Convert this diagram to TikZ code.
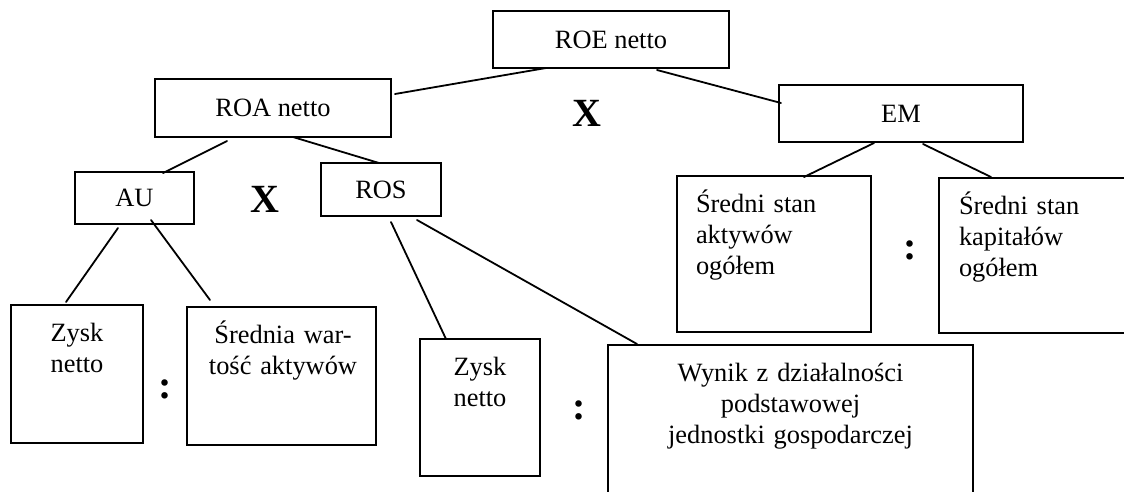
\documentclass[tikz,border=0pt]{standalone}
\usepackage{fontspec}
\setmainfont{Liberation Serif}
\begin{document}
\begin{tikzpicture}[x=1pt,y=-1pt,
  boxst/.style={draw=black, line width=1.8pt, inner sep=0pt, outer sep=0pt, anchor=north west, font=\fontsize{26.4}{31}\selectfont},
  txt/.style={inner sep=0pt, outer sep=0pt, font=\fontsize{26.4}{31}\selectfont},
  conn/.style={line width=1.8pt, line cap=round},
  bigsign/.style={inner sep=0pt, outer sep=0pt, font=\fontsize{40}{48}\selectfont\bfseries}]
\useasboundingbox (0,0) rectangle (1124,491);
\clip (0,0) rectangle (1124,491);
\fill[white] (0,0) rectangle (1124,491);

% boxes
\node[boxst, minimum width=236pt, minimum height=57pt] (roe) at (493,11) {ROE netto};
\node[boxst, minimum width=236pt, minimum height=58pt] (roa) at (155,79) {ROA netto};
\node[boxst, minimum width=244pt, minimum height=57pt] (em) at (779,85) {EM};
\node[boxst, minimum width=119pt, minimum height=52pt] (au) at (75,172) {AU};
\node[boxst, minimum width=120pt, minimum height=53pt] (ros) at (321,163) {ROS};
\node[boxst, minimum width=194pt, minimum height=156pt] (sak) at (677,176) {};
\node[boxst, minimum width=220pt, minimum height=155pt] (skap) at (939,178) {};
\node[boxst, minimum width=132pt, minimum height=138pt] (zn1) at (11,305) {};
\node[boxst, minimum width=189pt, minimum height=138pt] (sw) at (187,307) {};
\node[boxst, minimum width=120pt, minimum height=137pt] (zn2) at (420,339) {};
\node[boxst, minimum width=365pt, minimum height=180pt] (wyn) at (608,345) {};

% box texts
\node[txt, anchor=north west, text width=170pt, align=left] (sakt) at ([xshift=19pt,yshift=-14.3pt]sak.north west) {\strut Średni stan\\aktywów\\ogółem};
\node[txt, anchor=north west, text width=170pt, align=left] (skapt) at ([xshift=20pt,yshift=-14.3pt]skap.north west) {\strut Średni stan\\kapitałów\\ogółem};
\node[txt, anchor=north, text width=132pt, align=center] (zn1t) at ([yshift=-14.3pt]zn1.north) {\strut Zysk\\netto};
\node[txt, anchor=north, text width=189pt, align=center] (swt) at ([xshift=1.5pt,yshift=-14.3pt]sw.north) {\strut Średnia war-\\tość aktywów};
\node[txt, anchor=north, text width=120pt, align=center] (zn2t) at ([yshift=-14.3pt]zn2.north) {\strut Zysk\\netto};
\node[txt, anchor=north, text width=365pt, align=center] (wynt) at ([yshift=-14.3pt]wyn.north) {\strut Wynik z działalności\\podstawowej\hspace*{6.6pt}\\jednostki gospodarczej};

% connectors
\draw[conn] ([xshift=4pt,yshift=-15pt]roa.north east) -- ([xshift=53pt]roe.south west);
\draw[conn] ([xshift=164pt,yshift=-2pt]roe.south west) -- ([xshift=2pt,yshift=-18pt]em.north west);
\draw[conn] ([xshift=72pt,yshift=-4pt]roa.south west) -- ([xshift=88pt,yshift=-1pt]au.north west);
\draw[conn] ([xshift=138pt]roa.south west) -- ([xshift=58pt]ros.north west);
\draw[conn] ([xshift=43pt,yshift=-4pt]au.south west) -- ([xshift=55pt,yshift=3pt]zn1.north west);
\draw[conn] ([xshift=76pt,yshift=4pt]au.south west) -- ([xshift=23pt,yshift=7pt]sw.north west);
\draw[conn] ([xshift=70pt,yshift=-6pt]ros.south west) -- ([xshift=26pt]zn2.north west);
\draw[conn] ([xshift=96pt,yshift=-4pt]ros.south west) -- ([xshift=29pt,yshift=1pt]wyn.north west);
\draw[conn] ([xshift=95pt,yshift=-1pt]em.south west) -- ([xshift=127pt,yshift=-1pt]sak.north west);
\draw[conn] ([xshift=144pt,yshift=-2pt]em.south west) -- ([xshift=52pt,yshift=1pt]skap.north west);

% operators
\node[bigsign] (x1) at (587,113) {X};
\node[bigsign] (x2) at (265,199) {X};
\node[bigsign] (c1) at (165.5,389) {:};
\node[bigsign] (c2) at (579,410) {:};
\node[bigsign] (c3) at (910,250) {:};
\end{tikzpicture}
\end{document}
